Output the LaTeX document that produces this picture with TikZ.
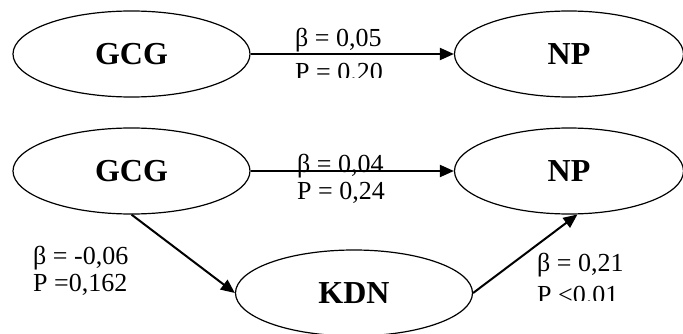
\documentclass[tikz,border=0pt]{standalone}
\usepackage{fontspec}
\setmainfont{Liberation Serif}
\usetikzlibrary{shapes.geometric,arrows.meta}
\begin{document}
\begin{tikzpicture}[x=1pt,y=-1pt,
  var/.style={ellipse,draw,line width=1.2pt,minimum width=237pt,minimum height=86pt,inner sep=0pt,
    font=\fontsize{32}{36}\selectfont\bfseries},
  npvar/.style={var,minimum width=229pt},
  arr/.style={line width=2pt,-{Triangle[length=14pt,width=12pt]}},
  lab/.style={anchor=base west,inner sep=0pt,font=\fontsize{26}{30}\selectfont}]
\fill[white] (0,0) rectangle (683,334);
\useasboundingbox (0,0) rectangle (683,334);

% top model
\node[var] (gcgA) at (131.5,54) {GCG};
\node[npvar] (npA) at (569,54) {NP};
\draw[arr] (gcgA) -- (npA);
\node[lab] (bA) at (295,47) {β = 0,05};
\begin{scope}
  \clip (0,0) rectangle (683,78);
  \node[lab] (pA) at (295,81) {P = 0.20};
\end{scope}

% bottom model
\node[var] (gcgB) at (131.5,171) {GCG};
\node[npvar] (npB) at (569,171) {NP};
\node[var] (kdn) at (354,293) {KDN};
\draw[arr] (gcgB) -- (npB);
\draw[arr] (gcgB.south) -- (kdn.west);
\draw[arr] (kdn.east) -- (npB.-79);

\node[lab] (bB) at (297,172) {β = 0,04};
\node[lab] (pB) at (297,200) {P = 0,24};
\node[lab] (bC) at (33,264) {β = -0,06};
\node[lab] (pC) at (33,291) {P =0,162};
\node[lab] (bD) at (537,271) {β = 0,21};
\begin{scope}
  \clip (0,0) rectangle (683,300);
  \node[lab] (pD) at (537,303) {P <0.01};
\end{scope}
\end{tikzpicture}
\end{document}
